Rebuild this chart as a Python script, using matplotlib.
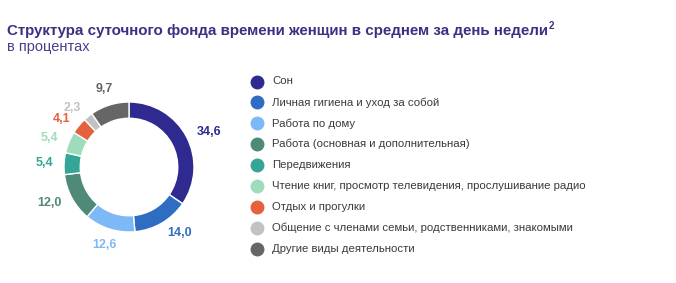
import matplotlib.pyplot as plt
import numpy as np

categories = ["Сон", "Личная гигиена и уход за собой", "Работа по дому",
              "Работа (основная и дополнительная)", "Передвижения",
              "Чтение книг, просмотр телевидения, прослушивание радио",
              "Отдых и прогулки", "Общение с членами семьи, родственниками, знакомыми",
              "Другие виды деятельности"]
values = [34.6, 14.0, 12.6, 12.0, 5.4, 5.4, 4.1, 2.3, 9.7]
value_labels = ["34,6", "14,0", "12,6", "12,0", "5,4", "5,4", "4,1", "2,3", "9,7"]
colors = ["#2E2A90", "#2F6DC2", "#7DB8F7", "#4F8A78", "#35A595", "#9FDCBC",
          "#E5603C", "#C2C2C2", "#666666"]

plt.rcParams['font.family'] = ['Liberation Sans', 'DejaVu Sans']
W, H = 676, 283
fig = plt.figure(figsize=(W/100, H/100), dpi=100)

# title
t = fig.text(7/W, 1-35/H, "Структура суточного фонда времени женщин в среднем за день недели",
             fontsize=10.9, fontweight='bold', color='#3B3182', ha='left', va='baseline')
fig.canvas.draw()
bb = t.get_window_extent()
fig.text((bb.x1 + 1)/W, 1-29/H, "2", fontsize=7, fontweight='bold', color='#3B3182',
         ha='left', va='baseline')
fig.text(7/W, 1-51/H, "в процентах", fontsize=10.5, color='#4A3F8C', ha='left', va='baseline')

# donut
R = 65
cx, cy = 129, 167
L = 1.6
side = 2*L*R
ax = fig.add_axes([(cx - side/2)/W, (H - cy - side/2)/H, side/W, side/H])
wedges, _ = ax.pie(values, colors=colors, startangle=90, counterclock=False,
                   radius=1.0, wedgeprops=dict(width=0.25, edgecolor='white', linewidth=1.0))
ax.set_xlim(-L, L); ax.set_ylim(-L, L)
ax.axis('off')
total = sum(values)
cum = 0
for v, lab, c in zip(values, value_labels, colors):
    mid = 90 - (cum + v/2) / total * 360
    cum += v
    cs, sn = np.cos(np.radians(mid)), np.sin(np.radians(mid))
    r = 1.17
    ha = 'left' if cs > 0.35 else ('right' if cs < -0.35 else 'center')
    if ha == 'center':
        r = 1.25
    ax.text(r*cs, r*sn, lab, color=c, fontsize=9, fontweight='bold', ha=ha, va='center')

# legend
y0, dy = 81.5, 20.9
for i, (cat, c) in enumerate(zip(categories, colors)):
    yy = 1 - (y0 + i*dy)/H
    fig.add_artist(plt.Line2D([257/W], [yy], marker='o', markersize=9,
                              color=c, linestyle='none', transform=fig.transFigure))
    fig.text(272/W, yy, cat, fontsize=8.2, color='#3a3a3a', ha='left', va='center')

fig.savefig("out.png", dpi=100)
